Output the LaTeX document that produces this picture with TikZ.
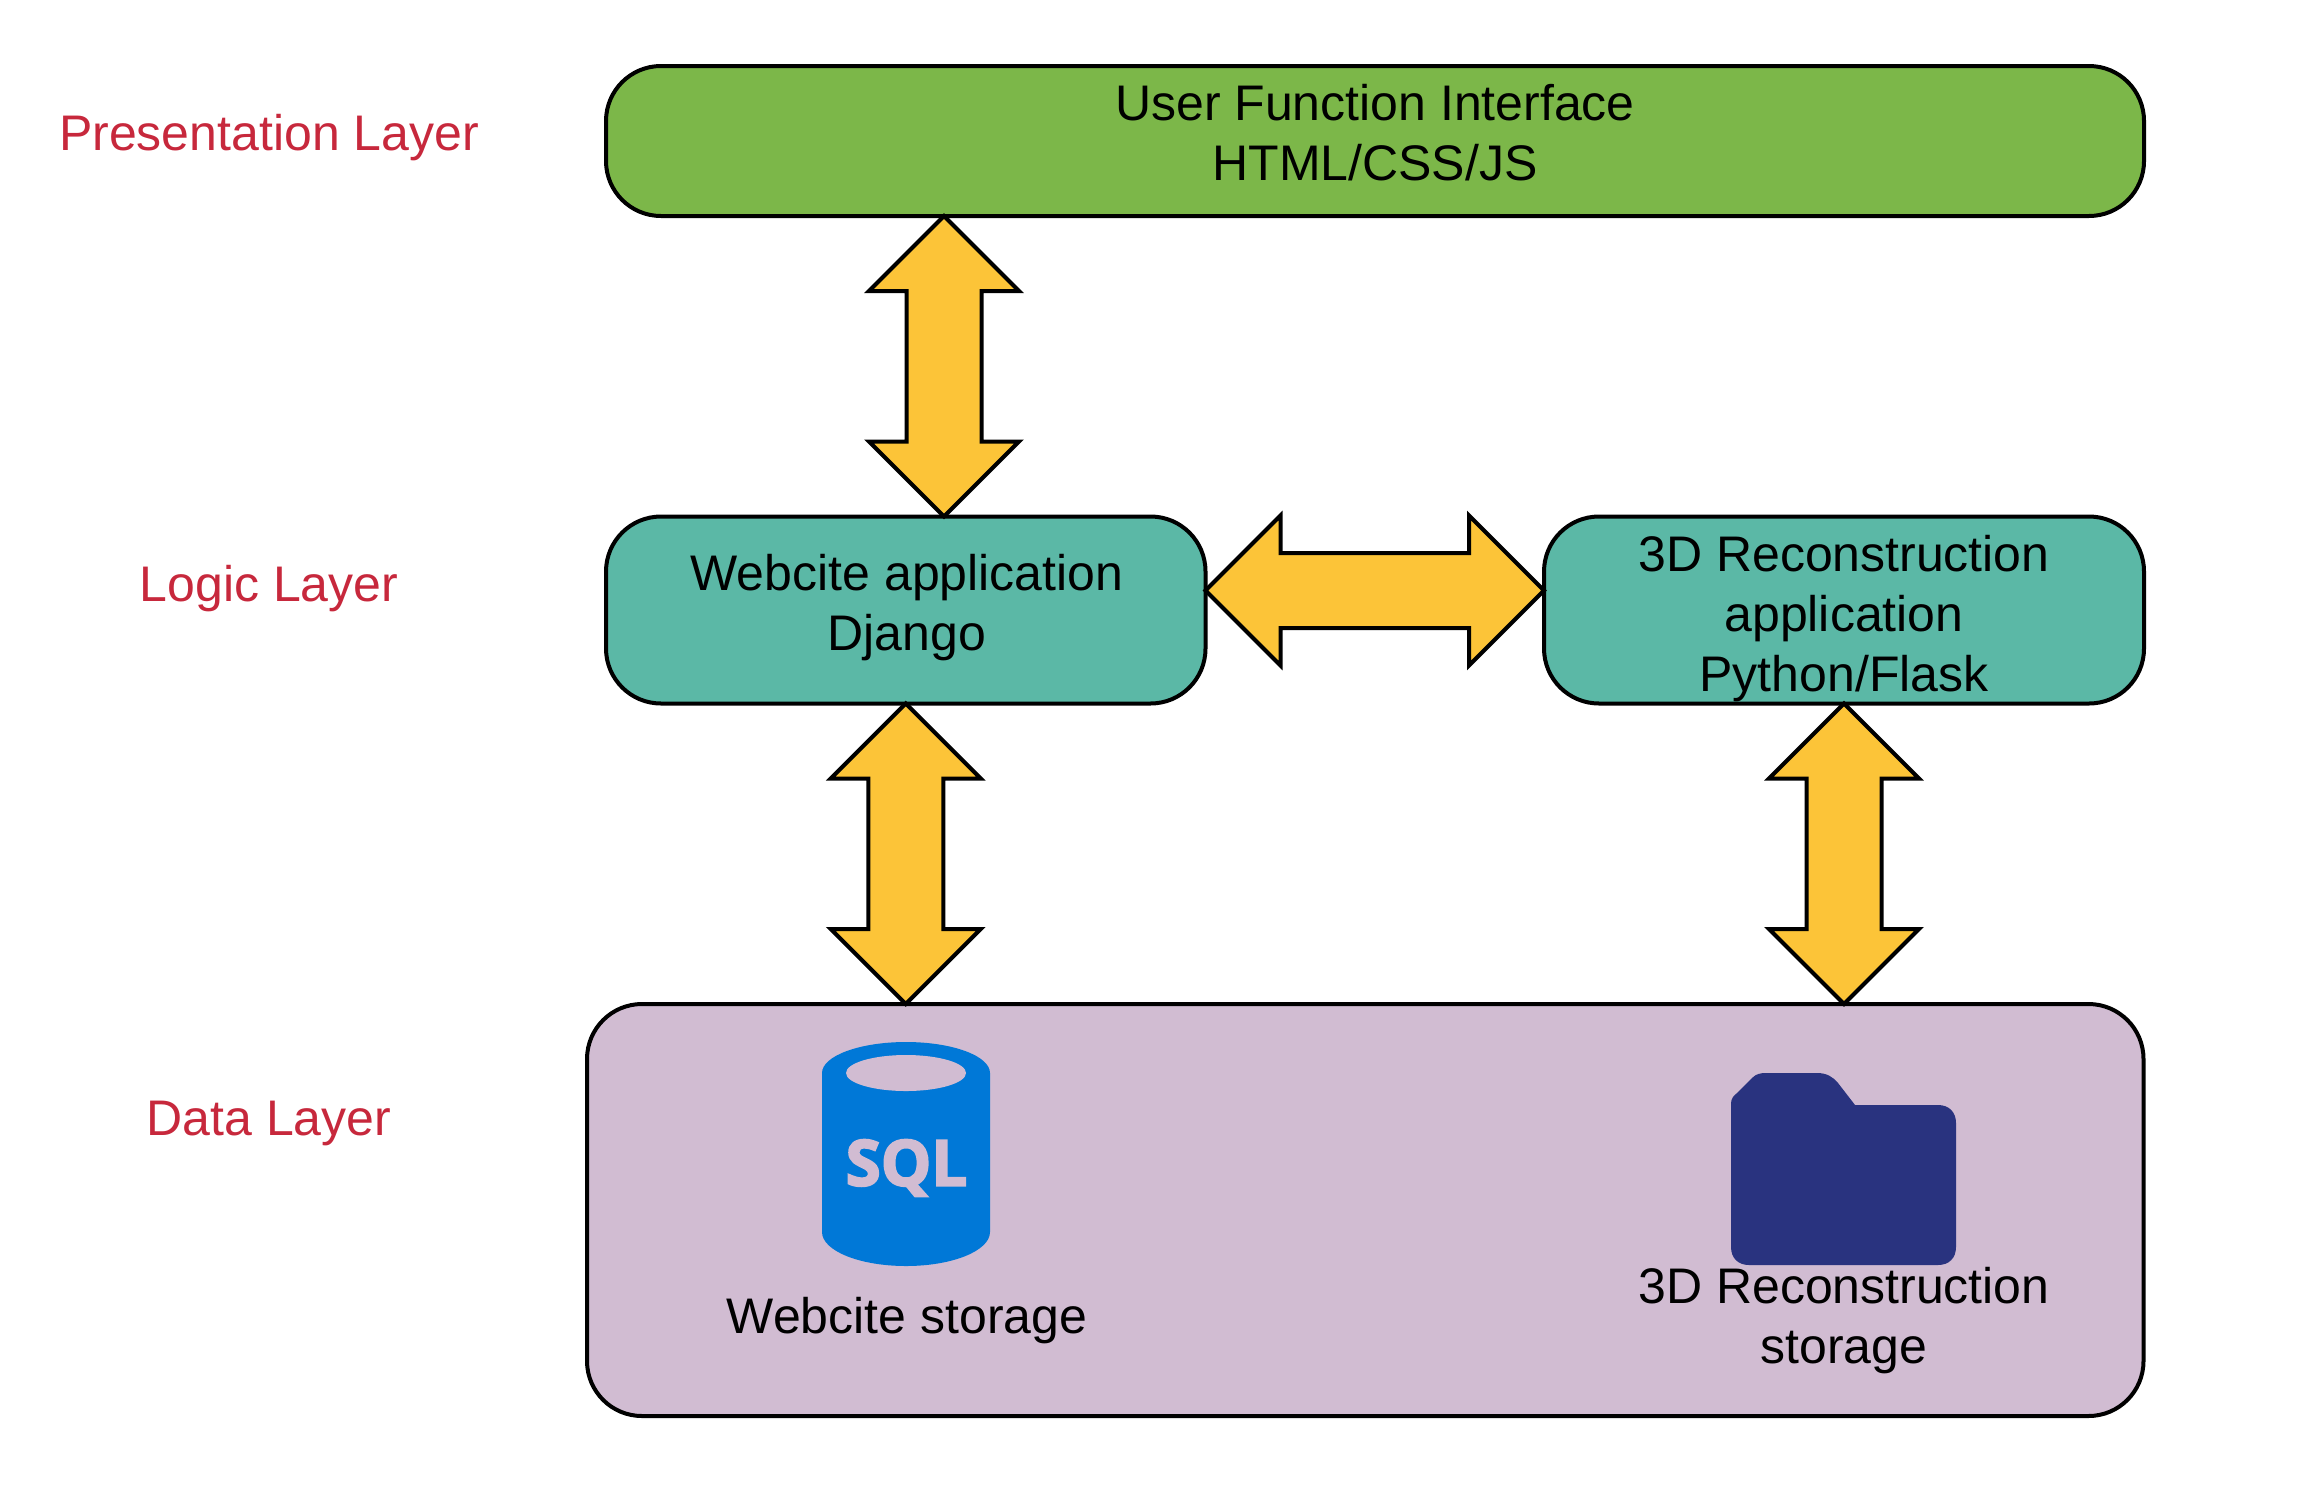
\documentclass[tikz,border=0pt]{standalone}
\usepackage{fontspec}
\setmainfont{Liberation Sans}
\newfontfamily\sqlfont[BoldFeatures={FakeBold=3}]{Open Sans}
\usetikzlibrary{calc}
\definecolor{cgreen}{HTML}{7CB749}
\definecolor{cteal}{HTML}{5BB8A6}
\definecolor{cyell}{HTML}{FCC438}
\definecolor{cpurp}{HTML}{D1BCD2}
\definecolor{cblue}{HTML}{0078D7}
\definecolor{cfold}{HTML}{29337F}
\definecolor{cred}{HTML}{C7283C}
\tikzset{
  box/.style={draw=black,line width=2pt,rectangle,rounded corners=27.5pt,inner sep=0pt,outer sep=0pt},
  txt/.style={font=\fontsize{25}{30}\selectfont,align=center,text=black,inner sep=0pt},
  layer/.style={txt,text=cred},
  bigarrow/.style={draw=black,fill=cyell,line width=2pt,miter limit=10,
    to path={(\tikztostart)
      -- ($(\tikztostart)!37.5pt!(\tikztotarget)!37.5pt!90:(\tikztotarget)$)
      -- ($(\tikztostart)!37.5pt!(\tikztotarget)!18.75pt!90:(\tikztotarget)$)
      -- ($(\tikztotarget)!37.5pt!(\tikztostart)!18.75pt!-90:(\tikztostart)$)
      -- ($(\tikztotarget)!37.5pt!(\tikztostart)!37.5pt!-90:(\tikztostart)$)
      -- (\tikztotarget)
      -- ($(\tikztotarget)!37.5pt!(\tikztostart)!37.5pt!90:(\tikztostart)$)
      -- ($(\tikztotarget)!37.5pt!(\tikztostart)!18.75pt!90:(\tikztostart)$)
      -- ($(\tikztostart)!37.5pt!(\tikztotarget)!18.75pt!-90:(\tikztotarget)$)
      -- ($(\tikztostart)!37.5pt!(\tikztotarget)!37.5pt!-90:(\tikztotarget)$)
      -- cycle}},
}
\begin{document}
\begin{tikzpicture}[x=0.5pt,y=-0.5pt]
\useasboundingbox (0,0) rectangle (2321,1489);
% boxes
\node[box,fill=cgreen,minimum width=769pt,minimum height=75pt] (ui) at (1375,141) {};
\node[box,fill=cteal,minimum width=299.75pt,minimum height=93.5pt] (web) at (905.75,610) {};
\node[box,fill=cteal,minimum width=300pt,minimum height=93.5pt] (rec) at (1844,610) {};
\node[box,fill=cpurp,minimum width=778.25pt,minimum height=206pt] (data) at (1365.25,1210) {};
% arrows
\coordinate (vx) at (944,0);
\coordinate (hy) at (0,590.5);
\draw[bigarrow] (ui.south -| vx) to (web.north -| vx);
\draw[bigarrow] (web.east |- hy) to (rec.west |- hy);
\draw[bigarrow] (web.south) to (web.south |- data.north);
\draw[bigarrow] (rec.south) to (rec.south |- data.north);
% box texts
\node[txt] (uit) at (1375,133) {User Function Interface\\HTML/CSS/JS};
\node[txt] (webt) at (907,608) {Webcite application\\Django};
\node[txt] (rect) at (1844,619) {3D Reconstruction\\application\\Python/Flask};
% layer labels
\node[layer] (l1) at (269,138) {Presentation Layer};
\node[layer] (l2) at (269,589) {Logic Layer};
\node[layer] (l3) at (269,1123) {Data Layer};
% SQL icon
\fill[cblue] (822,1073) arc[start angle=180,end angle=360,x radius=84,y radius=31]
  -- (990,1232) arc[start angle=0,end angle=180,x radius=84,y radius=34] -- cycle;
\fill[cpurp] (906,1073) ellipse[x radius=60,y radius=18];
\node[inner sep=0pt,text=cpurp,font=\sqlfont\bfseries\fontsize{31.8}{32}\selectfont] (sql) at (906.5,1168) {SQL};
\node[txt] (sqlt) at (907,1321) {Webcite storage};
% folder icon
\fill[cfold] (1731,1105) .. controls (1731,1097) and (1734,1096) .. (1737,1093)
  -- (1752,1078) .. controls (1756,1074) and (1760,1073) .. (1766,1073)
  -- (1817,1073) .. controls (1827,1073) and (1833,1077) .. (1838,1083)
  -- (1855,1105) -- (1938,1105) .. controls (1949,1105) and (1956,1112) .. (1956,1123)
  -- (1956,1247) .. controls (1956,1258) and (1949,1265) .. (1938,1265)
  -- (1749,1265) .. controls (1738,1265) and (1731,1258) .. (1731,1247) -- cycle;
\node[txt] (foldt) at (1844,1321) {3D Reconstruction\\storage};
\end{tikzpicture}
\end{document}
